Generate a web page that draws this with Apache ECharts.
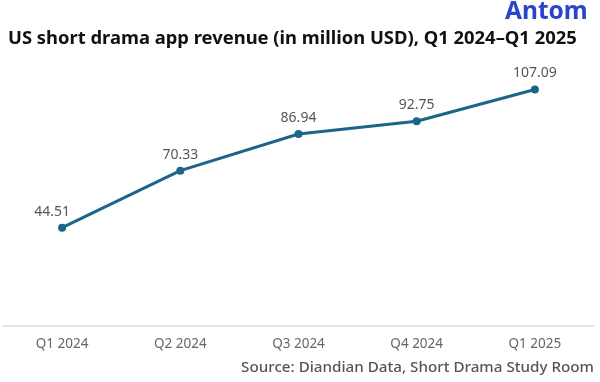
<!DOCTYPE html>
<html><head><meta charset="utf-8">
<script src="https://cdn.jsdelivr.net/npm/echarts@6/dist/echarts.min.js"></script>
<style>html,body{margin:0;padding:0;background:#fff}#c{width:600px;height:382px}</style>
</head><body><div id="c"></div>
<script>
const categories = ['Q1 2024','Q2 2024','Q3 2024','Q4 2024','Q1 2025'];
const revenue = [44.51, 70.33, 86.94, 92.75, 107.09];
const titleText = 'US short drama app revenue (in million USD), Q1 2024\u2013Q1 2025';
const sourceText = 'Source: Diandian Data, Short Drama Study Room';

const chart = echarts.init(document.getElementById('c'));
chart.setOption({
  animation: false,
  backgroundColor: '#fff',
  graphic: [
    {type:'text', left: 505, top: 0, style:{text:'Antom', fill:'#2b44cc', font:'bold 24.5px "Noto Sans", sans-serif'}},
    {type:'text', left: 8, top: 30, style:{text:titleText, fill:'#111', font:'bold 18.4px "Noto Sans", sans-serif'}},
    {type:'text', right: 6, top: 360, style:{text:sourceText, fill:'#555', font:'500 15.2px "Noto Sans", sans-serif'}}
  ],
  grid: {left: 3, right: 6, top: 61, bottom: 56, containLabel: false},
  xAxis: {
    type:'category', data: categories, boundaryGap: true,
    axisLine:{show:true, lineStyle:{color:'#ddd', width:1.5}},
    axisTick:{show:false},
    axisLabel:{color:'#666', fontSize:13.5, margin:11, fontFamily:'"Noto Sans", sans-serif'}
  },
  yAxis: {type:'value', min:0, max:120, show:false, splitLine:{show:false}},
  series: [{
    type:'line', data: revenue.map((v,i)=> i===0 ? {value:v, label:{offset:[-10,0]}} : v),
    lineStyle:{color:'#1b6688', width:3},
    itemStyle:{color:'#1b6688'},
    symbol:'circle', symbolSize:8,
    label:{show:true, position:'top', distance:5, color:'#555', fontSize:14, fontFamily:'"Noto Sans", sans-serif'}
  }]
});
</script></body></html>
